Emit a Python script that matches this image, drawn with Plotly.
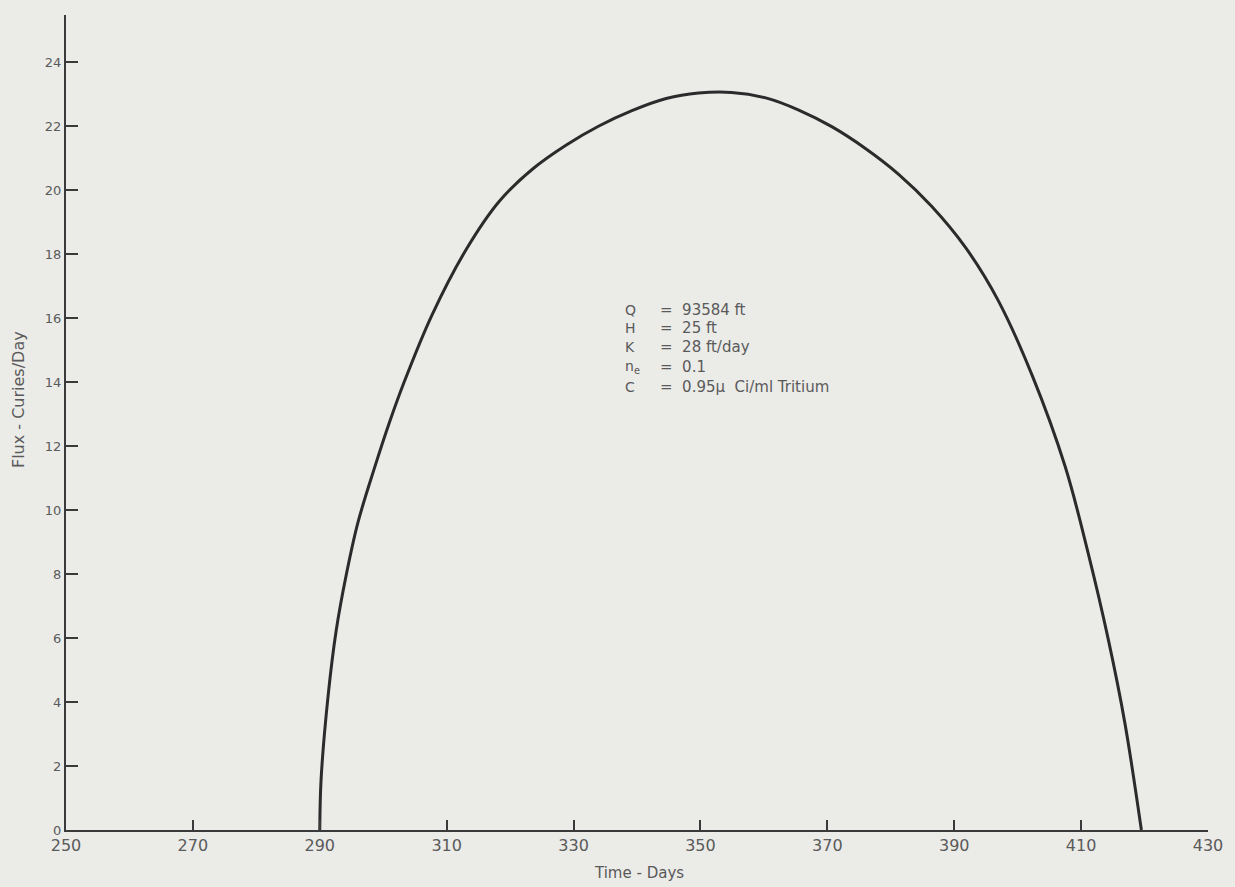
import plotly.graph_objects as go

days = [290, 290.2, 291.3, 292.6, 294.2, 296.0, 298.6, 301.0, 303.3, 307.7, 313.1, 318.3,
        323.5, 328.8, 334.0, 339.2, 344.6, 349.7, 354.9, 360.3, 365.5, 370.7, 376.0, 381.2,
        386.4, 391.8, 396.9, 402.3, 407.5, 411.1, 414.3, 416.9, 419.5]
flux = [0, 1.56, 4.17, 6.25, 8.0, 9.6, 11.3, 12.75, 14.0, 16.1, 18.15, 19.65,
        20.65, 21.4, 22.0, 22.48, 22.86, 23.03, 23.05, 22.88, 22.5, 21.98, 21.3, 20.5,
        19.5, 18.2, 16.56, 14.2, 11.35, 8.66, 5.94, 3.34, 0]

x_ticks = [250, 270, 290, 310, 330, 350, 370, 390, 410, 430]
y_ticks = [0, 2, 4, 6, 8, 10, 12, 14, 16, 18, 20, 22, 24]

param_names = ["Q", "H", "K", "n<sub>e</sub>", "C"]
param_values = ["=  93584 ft", "=  25 ft", "=  28 ft/day", "=  0.1", "=  0.95\u00b5  Ci/ml Tritium"]

BG = "#ebebe8"
INK = "#3a3a3a"
TXT = "#5a5a5a"
FONT = "DejaVu Sans"

fig = go.Figure()
fig.add_trace(go.Scatter(x=days, y=flux, mode="lines",
                         line=dict(color="#2b2b2b", width=3, shape="spline", smoothing=1.0),
                         showlegend=False, hoverinfo="skip"))

line_y = [16.25, 15.68, 15.08, 14.47, 13.86]
for name, val, yy in zip(param_names, param_values, line_y):
    fig.add_annotation(x=337.8, y=yy, text=name, showarrow=False, xanchor="left",
                       yanchor="middle", font=dict(family=FONT, size=14, color=TXT))
    fig.add_annotation(x=343.3, y=yy, text=val, showarrow=False, xanchor="left",
                       yanchor="middle", font=dict(family=FONT, size=15, color=TXT))

fig.add_annotation(xref="paper", yref="paper", x=0.502, y=-0.053, text="Time - Days",
                   showarrow=False, xanchor="center", yanchor="middle",
                   font=dict(family=FONT, size=15, color=TXT))
fig.add_annotation(xref="paper", yref="paper", x=-0.042, y=0.5276, text="Flux - Curies/Day",
                   textangle=-90, showarrow=False, xanchor="center", yanchor="middle",
                   font=dict(family=FONT, size=16, color=TXT))

fig.update_layout(
    width=1235, height=887,
    paper_bgcolor=BG, plot_bgcolor=BG,
    margin=dict(l=66, r=25, t=15, b=57),
    font=dict(family=FONT, color=TXT),
    xaxis=dict(range=[250, 430], tickvals=x_ticks, ticktext=[str(v) for v in x_ticks],
               ticks="inside", ticklen=10, tickwidth=2, tickcolor=INK,
               showline=True, linecolor=INK, linewidth=2, showgrid=False, zeroline=False,
               tickfont=dict(size=16, color=TXT), ticklabelstandoff=0),
    yaxis=dict(range=[0, 25.47], tickvals=y_ticks, ticktext=[str(v) for v in y_ticks],
               ticks="inside", ticklen=12, tickwidth=2, tickcolor=INK,
               showline=True, linecolor=INK, linewidth=2, showgrid=False, zeroline=False,
               tickfont=dict(size=13, color=TXT), ticklabelstandoff=0),
)

fig.write_html("out.html", config={"displayModeBar": False},
               post_script="document.body.style.margin='0';document.body.style.background='#ebebe8';")
